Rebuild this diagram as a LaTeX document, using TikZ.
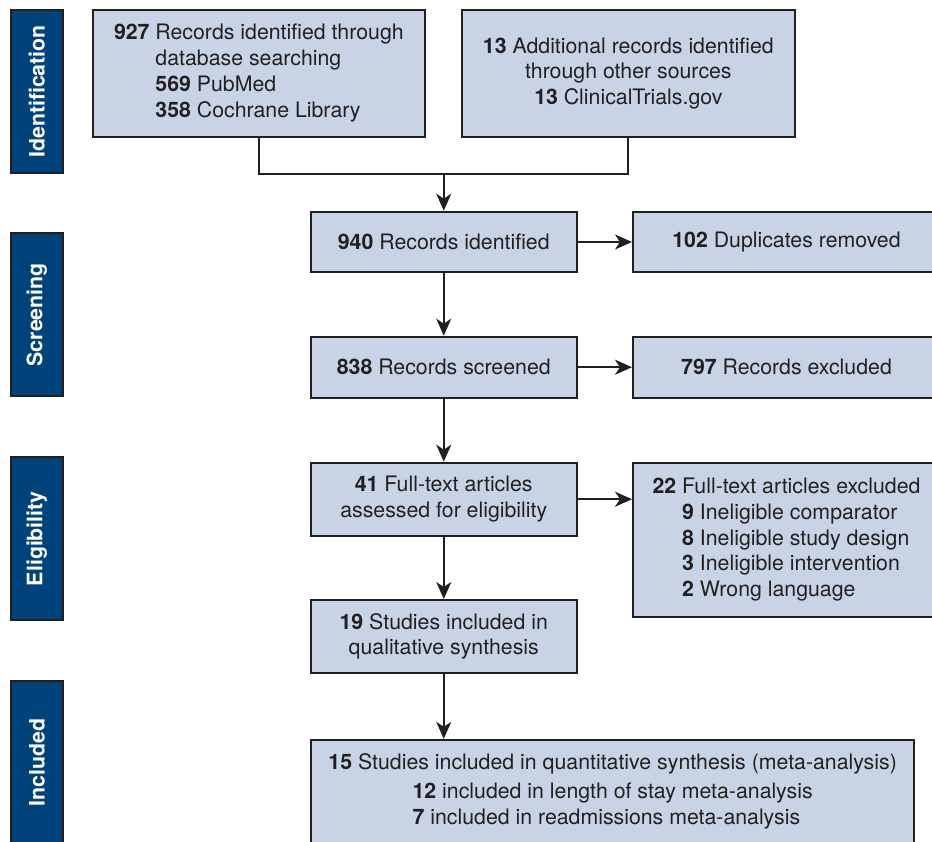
\documentclass[tikz,border=0pt]{standalone}
\usepackage{fontspec}
\setmainfont{TeX Gyre Heros}
\usetikzlibrary{arrows.meta}
\definecolor{boxfill}{HTML}{C9D3E6}
\definecolor{barfill}{HTML}{00427A}
\definecolor{ink}{HTML}{231F20}
\begin{document}
\begin{tikzpicture}[x=1pt,y=-1pt,
  box/.style={draw=ink, fill=boxfill, line width=2pt, inner sep=0pt, text=ink,
    font=\fontsize{21.3pt}{25.8pt}\selectfont, align=center},
  leftcol/.style={box, minimum width=265.5pt},
  rightcol/.style={box, minimum width=307pt},
  bar/.style={draw=ink, fill=barfill, line width=2pt, rotate=90,
    minimum width=163pt, minimum height=52.3pt, inner sep=0pt, text=white,
    font=\fontsize{21.3pt}{25.8pt}\selectfont\bfseries},
  conn/.style={draw=ink, line width=2pt},
  arr/.style={conn, -{Stealth[length=17pt,width=15pt,inset=5pt]}}]
\useasboundingbox (0,0) rectangle (932,842);
\clip (0,0) rectangle (932,842);

% side bars
\node[bar] (sid) at (36.85,91.5) {Identification};
\node[bar] (ssc) at (36.85,314.85) {Screening};
\node[bar] (sel) at (36.85,538.65) {Eligibility};
\node[bar] (sin) at (36.85,762.35) {Included};

% boxes
\node[box, minimum width=332.3pt, minimum height=127pt] (b1) at (258.85,73.5)
  {\begin{tabular}{@{}r@{\ }l@{}}\textbf{927} & Records identified through\\
   & database searching\\ & \textbf{569} PubMed\\ & \textbf{358} Cochrane Library\end{tabular}};
\node[box, minimum width=332.7pt, minimum height=127pt] (b2) at (628.35,73.5)
  {\textbf{13} Additional records identified\\ through other sources\\ \textbf{13} ClinicalTrials.gov};
\node[leftcol, minimum height=60.6pt] (b3) at (443.75,242) {\textbf{940} Records identified};
\node[rightcol, minimum height=60.6pt] (b4) at (786.5,242) {\textbf{102} Duplicates removed};
\node[leftcol, minimum height=61pt] (b5) at (443.75,367.2) {\textbf{838} Records screened};
\node[rightcol, minimum height=61pt] (b6) at (786.5,367.2) {\textbf{797} Records excluded};
\node[leftcol, minimum height=73pt] (b7) at (443.75,499.2)
  {\textbf{41} Full-text articles\\ assessed for eligibility};
\node[rightcol, minimum height=154pt] (b8) at (786.5,540)
  {\begin{tabular}{@{}r@{\ }l@{}}\textbf{22} & Full-text articles excluded\\
   & \textbf{9} Ineligible comparator\\ & \textbf{8} Ineligible study design\\
   & \textbf{3} Ineligible intervention\\ & \textbf{2} Wrong language\end{tabular}};
\node[leftcol, minimum height=72.7pt] (b9) at (443.75,636.35)
  {\textbf{19} Studies included in\\ qualitative synthesis};
\node[box, minimum width=603.3pt, minimum height=106.3pt] (b10) at (612.65,793)
  {\textbf{15} Studies included in quantitative synthesis (meta-analysis)\\[5pt]
   \begin{tabular}{@{}l@{}}\textbf{12} included in length of stay meta-analysis\\
   \textbf{7} included in readmissions meta-analysis\end{tabular}};

% connectors
\coordinate (jn) at (443.75,174);
\draw[conn] (b1.south) |- (jn) -| (b2.south);
\draw[arr] (jn) -- (b3.north);
\draw[arr] (b3.east) -- (b4.west);
\draw[arr] (b3.south) -- (b5.north);
\draw[arr] (b5.east) -- (b6.west);
\draw[arr] (b5.south) -- (b7.north);
\draw[arr] (b7.east) -- (b7.east -| b8.west);
\draw[arr] (b7.south) -- (b9.north);
\draw[arr] (b9.south) -- (b9.south |- b10.north);
\end{tikzpicture}
\end{document}
